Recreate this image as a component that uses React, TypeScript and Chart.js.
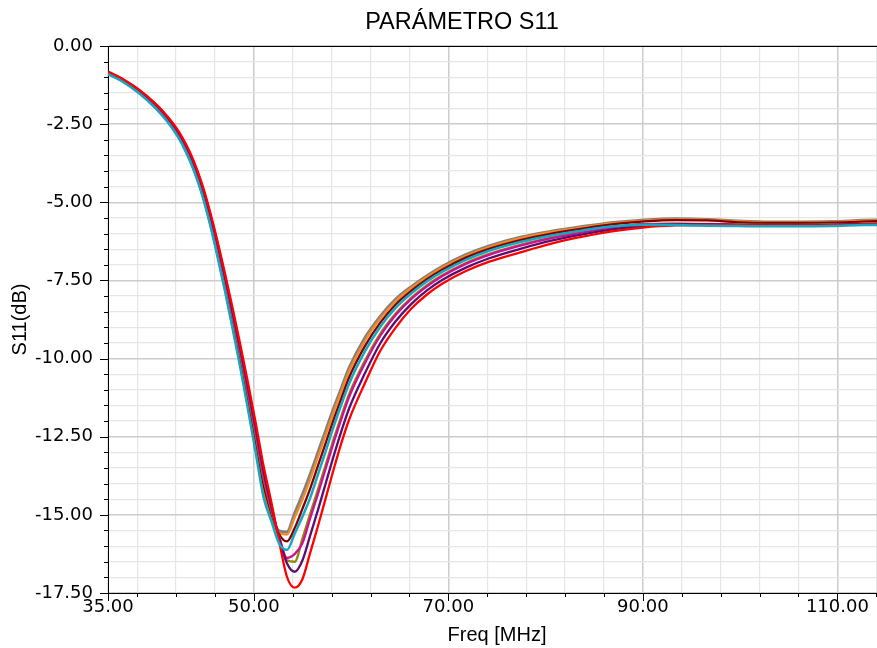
import React, { useEffect, useRef } from 'react';
import { Chart, registerables } from 'chart.js';

Chart.register(...registerables);

const TITLE = 'PARÁMETRO S11';
const X_TITLE = 'Freq [MHz]';
const Y_TITLE = 'S11(dB)';

const FREQ = [35, 36.6, 38.2, 39.8, 40.6, 41.4, 42.2, 43.0, 43.8, 44.6, 45.4, 46.2, 47.0, 47.8, 48.6, 49.4, 50.2, 51.0, 51.8, 52.6, 53.4, 54.2, 55.0, 55.8, 56.6, 57.4, 58.2, 59.0, 59.8, 61.4, 63.0, 64.6, 66.2, 67.8, 69.4, 71.8, 74.2, 77.4, 80.6, 83.8, 87.0, 90.2, 93.4, 96.6, 99.8, 103.0, 106.2, 109.4, 112.6, 115.0];

const S11_RED = [-0.82, -1.07, -1.40, -1.82, -2.07, -2.36, -2.70, -3.13, -3.67, -4.35, -5.19, -6.17, -7.24, -8.37, -9.55, -10.78, -12.08, -13.44, -14.60, -15.85, -16.98, -17.33, -17.05, -16.20, -15.35, -14.45, -13.55, -12.70, -11.95, -10.80, -9.75, -9.00, -8.40, -7.95, -7.60, -7.20, -6.90, -6.60, -6.32, -6.10, -5.92, -5.80, -5.74, -5.72, -5.73, -5.74, -5.74, -5.73, -5.71, -5.70];
const S11_PURPLE = [-0.83, -1.08, -1.42, -1.84, -2.09, -2.39, -2.73, -3.17, -3.71, -4.40, -5.25, -6.24, -7.32, -8.47, -9.66, -10.91, -12.22, -13.59, -14.70, -15.75, -16.55, -16.82, -16.45, -15.65, -14.83, -13.98, -13.12, -12.32, -11.59, -10.48, -9.51, -8.80, -8.25, -7.82, -7.48, -7.09, -6.79, -6.49, -6.23, -6.03, -5.86, -5.75, -5.71, -5.71, -5.72, -5.73, -5.73, -5.72, -5.70, -5.69];
const S11_MAGENTA = [-0.84, -1.10, -1.43, -1.86, -2.12, -2.41, -2.76, -3.21, -3.76, -4.45, -5.31, -6.31, -7.41, -8.57, -9.77, -11.04, -12.37, -13.74, -14.80, -15.70, -16.38, -16.25, -15.90, -15.10, -14.32, -13.50, -12.69, -11.93, -11.22, -10.16, -9.27, -8.60, -8.09, -7.69, -7.36, -6.97, -6.68, -6.39, -6.15, -5.96, -5.80, -5.70, -5.69, -5.70, -5.72, -5.73, -5.73, -5.72, -5.70, -5.69];
const S11_OLIVE = [-0.85, -1.11, -1.44, -1.88, -2.13, -2.43, -2.78, -3.23, -3.79, -4.48, -5.35, -6.36, -7.46, -8.63, -9.84, -11.12, -12.46, -13.84, -14.85, -15.72, -16.45, -16.50, -15.75, -14.95, -14.18, -13.38, -12.58, -11.83, -11.13, -10.08, -9.20, -8.55, -8.05, -7.65, -7.33, -6.94, -6.65, -6.36, -6.13, -5.94, -5.79, -5.69, -5.68, -5.69, -5.71, -5.72, -5.72, -5.71, -5.69, -5.68];
const S11_CYAN = [-0.90, -1.16, -1.51, -1.96, -2.23, -2.54, -2.91, -3.38, -3.96, -4.68, -5.59, -6.65, -7.79, -9.02, -10.28, -11.63, -13.03, -14.44, -15.20, -15.92, -16.12, -15.60, -15.05, -14.45, -13.70, -12.95, -12.18, -11.47, -10.80, -9.78, -8.98, -8.37, -7.91, -7.53, -7.22, -6.84, -6.55, -6.27, -6.06, -5.90, -5.77, -5.72, -5.73, -5.75, -5.76, -5.77, -5.77, -5.76, -5.73, -5.72];
const S11_MAROON = [-0.87, -1.12, -1.47, -1.90, -2.17, -2.47, -2.83, -3.28, -3.84, -4.55, -5.43, -6.46, -7.57, -8.76, -9.99, -11.29, -12.65, -14.04, -14.95, -15.62, -15.85, -15.42, -14.80, -14.15, -13.42, -12.69, -11.95, -11.27, -10.60, -9.61, -8.85, -8.26, -7.83, -7.46, -7.15, -6.77, -6.49, -6.21, -6.00, -5.84, -5.70, -5.61, -5.57, -5.58, -5.64, -5.66, -5.66, -5.65, -5.62, -5.60];
const S11_ORANGE = [-0.88, -1.13, -1.48, -1.92, -2.18, -2.49, -2.85, -3.31, -3.87, -4.58, -5.47, -6.51, -7.63, -8.83, -10.06, -11.38, -12.75, -14.14, -15.00, -15.58, -15.63, -15.08, -14.50, -13.85, -13.14, -12.43, -11.72, -11.05, -10.40, -9.44, -8.72, -8.15, -7.74, -7.39, -7.08, -6.71, -6.43, -6.15, -5.95, -5.80, -5.67, -5.59, -5.55, -5.56, -5.61, -5.64, -5.64, -5.63, -5.59, -5.57];
const S11_GRAY = [-0.88, -1.14, -1.49, -1.93, -2.20, -2.50, -2.87, -3.33, -3.90, -4.61, -5.51, -6.55, -7.68, -8.89, -10.13, -11.46, -12.84, -14.24, -15.05, -15.52, -15.55, -14.95, -14.35, -13.70, -13.00, -12.30, -11.60, -10.95, -10.30, -9.35, -8.65, -8.10, -7.70, -7.35, -7.05, -6.68, -6.40, -6.12, -5.93, -5.78, -5.65, -5.57, -5.53, -5.55, -5.60, -5.63, -5.63, -5.62, -5.58, -5.56];

const X_TICKS = [35, 38, 42, 46, 50, 54, 58, 62, 66, 70, 74, 78, 82, 86, 90, 94, 98, 102, 106, 110, 114];
const X_LABELED = [35, 50, 70, 90, 110];
const X_MAJOR = [50, 70, 90, 110];
const Y_MIN = -17.5;
const Y_MAX = 0;
const Y_MINOR_STEP = 0.5;
const Y_MAJOR_STEP = 2.5;
const X_MIN = 35;
const X_MAX = 115;

// first entry is drawn on top
const SERIES = [
  { name: 'cyan', data: S11_CYAN, color: '#18a6c2', width: 2.5 },
  { name: 'red', data: S11_RED, color: '#ff0000', width: 2.3 },
  { name: 'purple', data: S11_PURPLE, color: '#5a0f6e', width: 2.3 },
  { name: 'magenta', data: S11_MAGENTA, color: '#d0108c', width: 2.3 },
  { name: 'olive', data: S11_OLIVE, color: '#8a8a12', width: 2.3 },
  { name: 'maroon', data: S11_MAROON, color: '#820000', width: 2.3 },
  { name: 'orange', data: S11_ORANGE, color: '#f08a24', width: 2.3 },
  { name: 'gray', data: S11_GRAY, color: '#808080', width: 3.2 },
];

const LABEL_FONT = '"Liberation Sans", Arial, sans-serif';
const TICK_FONT = '"DejaVu Sans", Verdana, sans-serif';

const isYMajor = (v: number) => Math.abs(v / Y_MAJOR_STEP - Math.round(v / Y_MAJOR_STEP)) < 1e-6;
const isXMajor = (v: number) => X_MAJOR.some((m) => Math.abs(m - v) < 1e-6);

const decorPlugin = {
  id: 'decor',
  afterDraw(chart: any) {
    const { ctx, chartArea, scales } = chart;
    const xs = scales.x;
    const ys = scales.y;
    ctx.save();
    ctx.strokeStyle = '#000';
    ctx.lineWidth = 1;
    ctx.beginPath();
    const top = Math.round(chartArea.top) + 0.5;
    ctx.moveTo(chartArea.left, top);
    ctx.lineTo(chartArea.right, top);
    ys.ticks.forEach((t: any) => {
      const py = Math.round(ys.getPixelForValue(t.value)) + 0.5;
      const len = isYMajor(t.value) ? 8 : 4;
      ctx.moveTo(chartArea.left - len, py);
      ctx.lineTo(chartArea.left, py);
    });
    xs.ticks.forEach((t: any) => {
      const px = Math.round(xs.getPixelForValue(t.value)) + 0.5;
      const len = isXMajor(t.value) || t.value === X_MIN ? 8 : 4;
      ctx.moveTo(px, chartArea.bottom);
      ctx.lineTo(px, chartArea.bottom + len);
    });
    ctx.stroke();
    ctx.fillStyle = '#000';
    ctx.font = '23.5px ' + LABEL_FONT;
    ctx.textAlign = 'center';
    ctx.textBaseline = 'middle';
    ctx.fillText(TITLE, chart.width / 2, 23);
    ctx.restore();
  },
};

export default function App() {
  const ref = useRef<HTMLCanvasElement | null>(null);

  useEffect(() => {
    if (!ref.current) return;
    const chart = new Chart(ref.current, {
      type: 'line',
      data: {
        datasets: SERIES.map((s) => ({
          label: s.name,
          data: FREQ.map((f, i) => ({ x: f, y: s.data[i] })),
          borderColor: s.color,
          backgroundColor: s.color,
          borderWidth: s.width,
          pointRadius: 0,
          fill: false,
          cubicInterpolationMode: 'monotone' as const,
        })),
      },
      options: {
        animation: false,
        responsive: false,
        devicePixelRatio: 1,
        layout: { padding: { top: 46, right: 38, left: 0, bottom: 0 } },
        plugins: {
          legend: { display: false },
          tooltip: { enabled: false },
          title: { display: false },
        },
        scales: {
          x: {
            type: 'linear',
            min: X_MIN,
            max: X_MAX,
            afterBuildTicks: (scale: any) => {
              scale.ticks = X_TICKS.map((v) => ({ value: v }));
            },
            afterFit: (scale: any) => {
              scale.height = 55;
            },
            ticks: {
              autoSkip: false,
              maxRotation: 0,
              minRotation: 0,
              padding: 4,
              color: '#000',
              font: { family: TICK_FONT, size: 18 },
              callback: (v: any) => (X_LABELED.includes(Number(v)) ? Number(v).toFixed(2) : ''),
            },
            grid: {
              drawTicks: false,
              color: (c: any) => (c.tick && isXMajor(c.tick.value) ? '#cccccc' : '#e6e6e6'),
              lineWidth: (c: any) => (c.tick && isXMajor(c.tick.value) ? 1.5 : 1.2),
            },
            border: { display: true, color: '#000', width: 1 },
            title: {
              display: true,
              text: X_TITLE,
              color: '#000',
              font: { family: LABEL_FONT, size: 20 },
              padding: { top: 0, bottom: 1 },
            },
          },
          y: {
            type: 'linear',
            min: Y_MIN,
            max: Y_MAX,
            afterFit: (scale: any) => {
              scale.width = 108;
            },
            ticks: {
              stepSize: Y_MINOR_STEP,
              maxTicksLimit: 100,
              autoSkip: false,
              padding: 15,
              color: '#000',
              font: { family: TICK_FONT, size: 18 },
              callback: (v: any) => (isYMajor(Number(v)) ? Number(v).toFixed(2) : ''),
            },
            grid: {
              drawTicks: false,
              color: (c: any) => (c.tick && isYMajor(c.tick.value) ? '#cccccc' : '#e6e6e6'),
              lineWidth: (c: any) => (c.tick && isYMajor(c.tick.value) ? 1.5 : 1.2),
            },
            border: { display: true, color: '#000', width: 1 },
            title: {
              display: true,
              text: Y_TITLE,
              color: '#000',
              font: { family: LABEL_FONT, size: 20 },
              padding: { top: 8, bottom: 0 },
            },
          },
        },
      } as any,
      plugins: [decorPlugin],
    });
    return () => chart.destroy();
  }, []);

  return (
    <div
      style={{
        position: 'fixed',
        left: 0,
        top: 0,
        width: 877,
        height: 648,
        overflow: 'hidden',
        background: '#fff',
      }}
    >
      <canvas ref={ref} width={924} height={648} style={{ display: 'block', width: 924, height: 648 }} />
    </div>
  );
}
